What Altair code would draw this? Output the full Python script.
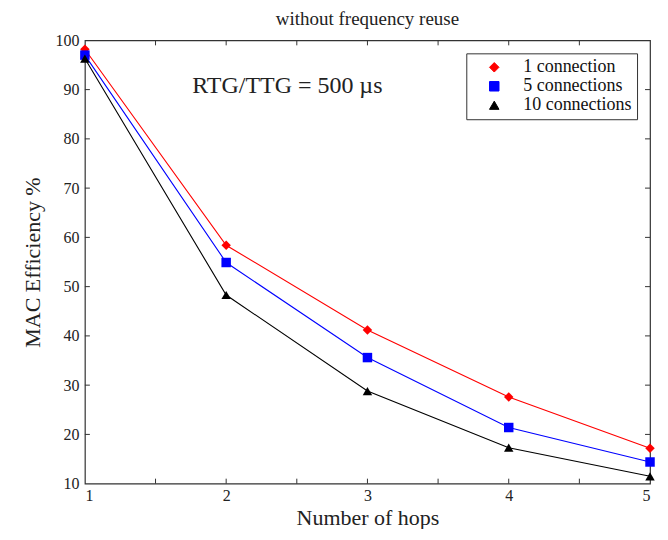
import altair as alt
import pandas as pd

hops = [1, 2, 3, 4, 5]
series_names = ["1 connection", "5 connections", "10 connections"]
one_conn = [98.2, 58.4, 41.2, 27.6, 17.2]
five_conn = [97.0, 54.9, 35.6, 21.4, 14.4]
ten_conn = [96.3, 48.3, 28.8, 17.3, 11.5]
series_colors = ["#ff0000", "#0000ff", "#000000"]
series_shapes = ["diamond", "square", "triangle-up"]

x_ticks_minor = [1.5, 2, 2.5, 3, 3.5, 4, 4.5]
y_ticks_minor = [20, 30, 40, 50, 60, 70, 80, 90]
x_labels = [1, 2, 3, 4, 5]
y_labels = [10, 20, 30, 40, 50, 60, 70, 80, 90, 100]

annot_text = ["RTG/TTG = 500 \u00b5s"]
annot_x = [1.76]
annot_y = [90.7]

FONT = "Liberation Serif"
LFONT = "Liberation Serif, Times New Roman, serif"
W, H = 566, 444

rows = []
for name, vals in zip(series_names, [one_conn, five_conn, ten_conn]):
    for h, v in zip(hops, vals):
        rows.append({"hops": h, "eff": v, "series": name})
df = pd.DataFrame(rows)

xs = alt.Scale(domain=[1, 5], nice=False, zero=False)
ys = alt.Scale(domain=[10, 100], nice=False, zero=False)

legend = alt.Legend(title=None, orient="none", legendX=382, legendY=13,
                    labelFont=LFONT, labelFontSize=18, labelColor="#111",
                    symbolSize=90, strokeColor="#333", fillColor="white",
                    padding=5, rowPadding=1, symbolStrokeWidth=1,
                    symbolOffset=14, labelOffset=20)
color = alt.Color("series:N", sort=series_names,
                  scale=alt.Scale(domain=series_names, range=series_colors),
                  legend=legend)
shape = alt.Shape("series:N", sort=series_names,
                  scale=alt.Scale(domain=series_names, range=series_shapes),
                  legend=legend)

xenc = alt.X("hops:Q", scale=xs,
             axis=alt.Axis(title="Number of hops", values=x_labels, format="d",
                           ticks=False, domain=False, grid=False, labelFont=LFONT,
                           labelFontSize=16, labelColor="#222", titleFont=FONT,
                           titleFontSize=22, titleFontWeight="normal", titleColor="#222",
                           labelPadding=4, titlePadding=4))
yenc = alt.Y("eff:Q", scale=ys,
             axis=alt.Axis(title="MAC Efficiency %", values=y_labels, format="d",
                           ticks=False, domain=False, grid=False, labelFont=LFONT,
                           labelFontSize=16, labelColor="#222", titleFont=FONT,
                           titleFontSize=22, titleFontWeight="normal", titleColor="#222",
                           labelPadding=6, titlePadding=10))

base = alt.Chart(df)
lines = base.mark_line(strokeWidth=1.1).encode(
    x=xenc, y=yenc, color=color, detail="series:N")
points = base.mark_point(filled=True, opacity=1, size=90).encode(
    x="hops:Q", y="eff:Q", color=color, shape=shape)

xt = pd.DataFrame({"t": x_ticks_minor})
yt = pd.DataFrame({"t": y_ticks_minor})
tick_style = dict(color="#333", strokeWidth=1)
tb = alt.Chart(xt).mark_rule(**tick_style).encode(x=alt.X("t:Q", scale=xs), y=alt.value(H), y2=alt.value(H - 5))
tt = alt.Chart(xt).mark_rule(**tick_style).encode(x=alt.X("t:Q", scale=xs), y=alt.value(0), y2=alt.value(5))
tl = alt.Chart(yt).mark_rule(**tick_style).encode(y=alt.Y("t:Q", scale=ys), x=alt.value(0), x2=alt.value(5))
tr = alt.Chart(yt).mark_rule(**tick_style).encode(y=alt.Y("t:Q", scale=ys), x=alt.value(W), x2=alt.value(W - 5))

ann = alt.Chart(pd.DataFrame({"t": annot_text, "x": annot_x, "y": annot_y})).mark_text(
    align="left", baseline="middle", font=FONT, fontSize=24, color="#222").encode(
    x=alt.X("x:Q", scale=xs), y=alt.Y("y:Q", scale=ys), text="t:N")

chart = alt.layer(tb, tt, tl, tr, lines, points, ann).properties(
    width=W, height=H,
    background="white",
    padding={"left": 14, "top": 2, "right": 5, "bottom": 0},
    title=alt.Title("without frequency reuse", font=FONT, fontSize=19,
                    fontWeight="normal", color="#222", offset=3),
).configure(font=FONT).configure_view(stroke="#333", strokeWidth=1.2)

chart.save("out.html", embed_options={"renderer": "svg", "actions": False})
